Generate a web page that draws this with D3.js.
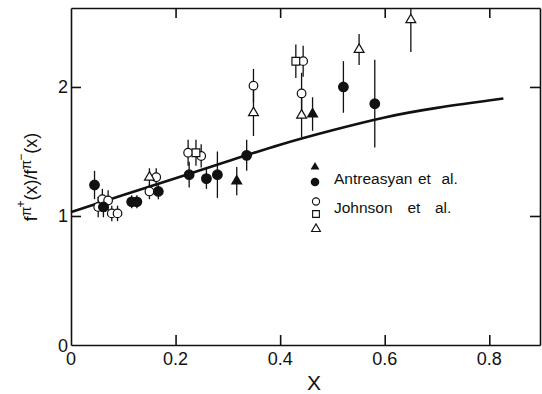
<!DOCTYPE html>
<html>
<head>
<meta charset="utf-8">
<script src="https://cdn.jsdelivr.net/npm/d3@7"></script>
<style>
  body { margin: 0; background: #fff; }
  text { font-family: "Liberation Sans", Arial, sans-serif; fill: #111; }
</style>
</head>
<body>
<svg id="chart"></svg>
<script>
// data: [x, ratio, error]
const antreasyanCircles = [
    [0.045, 1.24, 0.11],
    [0.062, 1.07, 0.08],
    [0.116, 1.11, 0.05],
    [0.126, 1.11, 0.05],
    [0.167, 1.19, 0.06],
    [0.226, 1.32, 0.10],
    [0.259, 1.29, 0.08],
    [0.280, 1.32, 0.18],
    [0.336, 1.47, 0.12],
    [0.521, 2.00, 0.20],
    [0.581, 1.87, 0.34]
];
const antreasyanTriangles = [
    [0.317, 1.27, 0.11],
    [0.462, 1.79, 0.13]
];
const johnsonCircles = [
    [0.052, 1.07, 0.08],
    [0.060, 1.13, 0.08],
    [0.071, 1.12, 0.08],
    [0.078, 1.02, 0.06],
    [0.089, 1.02, 0.06],
    [0.150, 1.19, 0.06],
    [0.163, 1.30, 0.07],
    [0.224, 1.49, 0.10],
    [0.249, 1.465, 0.09],
    [0.349, 2.01, 0.13],
    [0.444, 2.20, 0.12],
    [0.441, 1.95, 0.16]
];
const johnsonSquares = [
    [0.239, 1.49, 0.10],
    [0.430, 2.20, 0.13]
];
const johnsonTriangles = [
    [0.150, 1.30, 0.07],
    [0.349, 1.80, 0.18],
    [0.441, 1.78, 0.17],
    [0.551, 2.29, 0.12],
    [0.650, 2.52, 0.25]
];
// theory curve
const curveX = [0, 0.1, 0.2, 0.3, 0.4, 0.5, 0.6, 0.7, 0.827];
const curveY = [1.03, 1.162, 1.293, 1.424, 1.553, 1.665, 1.764, 1.838, 1.91];

const xTicks = [0.2, 0.4, 0.6, 0.8];
const yTicks = [1, 2];

const svgWidth = 542;
const svgHeight = 394;
const plot = { left: 71, right: 540, top: 8, bottom: 345 };

const svg = d3.select('#chart')
    .attr('width', svgWidth)
    .attr('height', svgHeight);

const x = d3.scaleLinear().domain([0, 0.897]).range([plot.left, plot.right]);
const y = d3.scaleLinear().domain([0, 2.612]).range([plot.bottom, plot.top]);

svg.append('clipPath').attr('id', 'clip')
    .append('rect')
    .attr('x', plot.left).attr('y', plot.top)
    .attr('width', plot.right - plot.left).attr('height', plot.bottom - plot.top);

// frame with inward ticks on all four sides
const tickLen = 10;
svg.append('g')
    .attr('transform', 'translate(0,' + plot.bottom + ')')
    .call(d3.axisBottom(x).tickValues(xTicks).tickSizeInner(-tickLen).tickSizeOuter(0).tickFormat(''));
svg.append('g')
    .attr('transform', 'translate(0,' + plot.top + ')')
    .call(d3.axisTop(x).tickValues(xTicks).tickSizeInner(-tickLen).tickSizeOuter(0).tickFormat(''));
svg.append('g')
    .attr('transform', 'translate(' + plot.left + ',0)')
    .call(d3.axisLeft(y).tickValues(yTicks).tickSizeInner(-tickLen).tickSizeOuter(0).tickFormat(''));
svg.append('g')
    .attr('transform', 'translate(' + plot.right + ',0)')
    .call(d3.axisRight(y).tickValues(yTicks).tickSizeInner(-tickLen).tickSizeOuter(0).tickFormat(''));
svg.selectAll('.domain, .tick line')
    .attr('stroke', '#111')
    .attr('stroke-width', 1.6);

// tick labels
svg.append('g').selectAll('text')
    .data([0].concat(xTicks))
    .enter().append('text')
    .attr('x', d => x(d))
    .attr('y', 365)
    .attr('text-anchor', 'middle')
    .attr('font-size', 18)
    .text(d => d === 0 ? '0' : d3.format('.1f')(d));
svg.append('g').selectAll('text')
    .data([0].concat(yTicks))
    .enter().append('text')
    .attr('x', plot.left - 3)
    .attr('y', d => y(d) + (d === 0 ? 7 : 6.5))
    .attr('text-anchor', 'end')
    .attr('font-size', 18)
    .text(d => d);

// axis titles
svg.append('text')
    .attr('x', x(0.465))
    .attr('y', 390)
    .attr('text-anchor', 'middle')
    .attr('font-size', 21)
    .text('X');

const yTitle = svg.append('text')
    .attr('transform', 'translate(37,' + 177 + ') rotate(-90)')
    .attr('text-anchor', 'middle')
    .attr('font-size', 18);
yTitle.append('tspan').text('f');
yTitle.append('tspan').attr('font-size', 14).attr('dy', -6).text('π');
yTitle.append('tspan').attr('font-size', 12).attr('dy', -6).attr('dx', -1).text('+');
yTitle.append('tspan').attr('dy', 12).text('(x)/f');
yTitle.append('tspan').attr('font-size', 14).attr('dy', -6).text('π');
yTitle.append('tspan').attr('font-size', 12).attr('dy', -6).attr('dx', -1).text('−');
yTitle.append('tspan').attr('dy', 12).text('(x)');

// theory curve
const line = d3.line()
    .x(d => x(d[0]))
    .y(d => y(d[1]))
    .curve(d3.curveNatural);
svg.append('path')
    .datum(curveX.map((v, i) => [v, curveY[i]]))
    .attr('d', line)
    .attr('fill', 'none')
    .attr('stroke', '#111')
    .attr('stroke-width', 2.6);

// error bars
const allPoints = [].concat(antreasyanCircles, antreasyanTriangles, johnsonCircles, johnsonSquares, johnsonTriangles);
svg.append('g')
    .attr('clip-path', 'url(#clip)')
    .selectAll('line')
    .data(allPoints)
    .enter().append('line')
    .attr('x1', d => x(d[0])).attr('x2', d => x(d[0]))
    .attr('y1', d => y(d[1] - d[2])).attr('y2', d => y(d[1] + d[2]))
    .attr('stroke', '#111')
    .attr('stroke-width', 1.3);

const triangle = d3.symbol().type(d3.symbolTriangle);
const square = d3.symbol().type(d3.symbolSquare);

function drawSymbols(data, shape, size, filled) {
    svg.append('g').selectAll('path')
        .data(data)
        .enter().append('path')
        .attr('transform', d => 'translate(' + x(d[0]) + ',' + y(d[1]) + ')')
        .attr('d', shape.size(size)())
        .attr('fill', filled ? '#111' : '#fff')
        .attr('stroke', '#111')
        .attr('stroke-width', 1.2);
}
function drawCircles(data, r, filled) {
    svg.append('g').selectAll('circle')
        .data(data)
        .enter().append('circle')
        .attr('cx', d => x(d[0]))
        .attr('cy', d => y(d[1]))
        .attr('r', r)
        .attr('fill', filled ? '#111' : '#fff')
        .attr('stroke', '#111')
        .attr('stroke-width', 1.2);
}

drawCircles(johnsonCircles, 4.3, false);
drawSymbols(johnsonSquares, square, 60, false);
drawSymbols(johnsonTriangles, triangle, 42, false);
drawCircles(antreasyanCircles, 4.8, true);
drawSymbols(antreasyanTriangles, triangle, 42, true);

// legend
const legend = svg.append('g');
legend.append('path')
    .attr('transform', 'translate(315,167)')
    .attr('d', triangle.size(34)())
    .attr('fill', '#111');
legend.append('circle')
    .attr('cx', 315).attr('cy', 182).attr('r', 4.3)
    .attr('fill', '#111');
legend.append('circle')
    .attr('cx', 316).attr('cy', 201.5).attr('r', 3.6)
    .attr('fill', '#fff').attr('stroke', '#111').attr('stroke-width', 1.1);
legend.append('path')
    .attr('transform', 'translate(316,214)')
    .attr('d', square.size(46)())
    .attr('fill', '#fff').attr('stroke', '#111').attr('stroke-width', 1.1);
legend.append('path')
    .attr('transform', 'translate(316,229)')
    .attr('d', triangle.size(34)())
    .attr('fill', '#fff').attr('stroke', '#111').attr('stroke-width', 1.1);

function legendLabel(words, xs, baseline) {
    const t = legend.append('text')
        .attr('y', baseline)
        .attr('font-size', 15.5);
    words.forEach((w, i) => t.append('tspan').attr('x', xs[i]).text(w));
}
legendLabel(['Antreasyan', 'et', 'al.'], [334, 418, 441.5], 184);
legendLabel(['Johnson', 'et', 'al.'], [334, 407.5, 435], 212.5);
</script>
</body>
</html>
